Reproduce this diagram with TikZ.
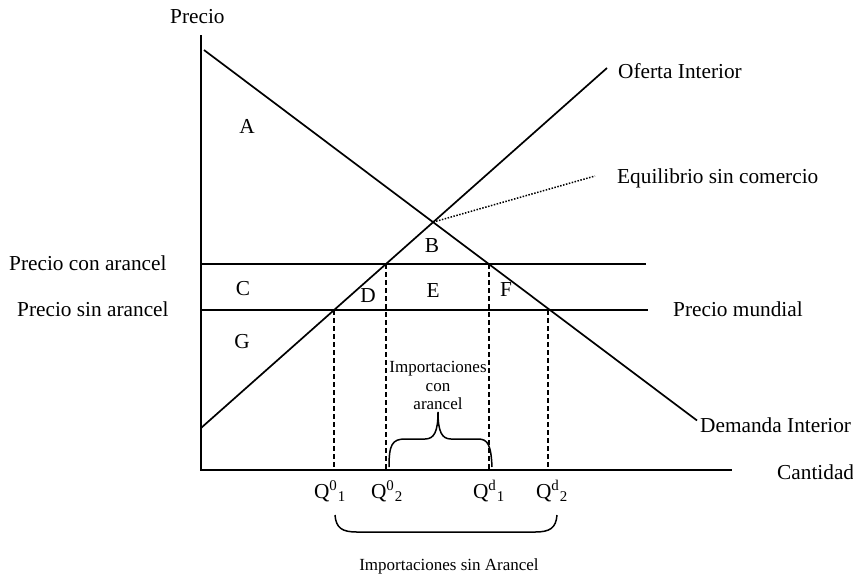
\documentclass[tikz,border=0pt]{standalone}
\usepackage{fontspec}
\setmainfont{Liberation Serif}
\begin{document}
\begin{tikzpicture}[x=1pt,y=-1pt,
  lbl/.style={inner sep=0pt,font=\fontsize{21.3}{24}\selectfont},
  small/.style={inner sep=0pt,font=\fontsize{17}{19}\selectfont},
  curve/.style={line width=1.7pt},
  drop/.style={line width=1.5pt,dash pattern=on 5pt off 3pt},
  dots/.style={line width=1.5pt,dash pattern=on 1.5pt off 1.5pt}]
\useasboundingbox (0,0) rectangle (853,576);
% key points
\coordinate (O) at (201,470);
\coordinate (Ytop) at (201,35);
\coordinate (Xend) at (732,470);
\coordinate (D0) at (204,50);
\coordinate (D1) at (697,420.5);
\coordinate (S0) at (201,428);
\coordinate (S1) at (607,68);
\coordinate (Eq) at (433.2,222.1);
\coordinate (Dotend) at (595,176);
\coordinate (PtL) at (201,264);
\coordinate (PtR) at (646,264);
\coordinate (PwL) at (201,310);
\coordinate (PwR) at (648,310);
\coordinate (q01) at (334,310);
\coordinate (q02) at (386,264);
\coordinate (qd1) at (489,264);
\coordinate (qd2) at (548,310);
\coordinate (b01) at (334,470);
\coordinate (b02) at (386,470);
\coordinate (bd1) at (489,470);
\coordinate (bd2) at (548,470);
% axes
\draw[curve] (Ytop) -- (O) -- (Xend);
% curves
\draw[curve] (D0) -- (D1);
\draw[curve] (S0) -- (S1);
\draw[curve] (PtL) -- (PtR);
\draw[curve] (PwL) -- (PwR);
\draw[dots] (Eq) -- (Dotend);
% dashed verticals
\draw[drop] (q01) -- (b01);
\draw[drop] (q02) -- (b02);
\draw[drop] (qd1) -- (bd1);
\draw[drop] (qd2) -- (bd2);
% braces
\draw[line width=1.5pt] (389,467) .. controls (389,445) and (392,439) .. (405,439)
  -- (425,439) .. controls (434,439) and (438,432) .. (438,412)
  .. controls (438,432) and (442,439) .. (451,439) -- (478,439)
  .. controls (488,439) and (491,445) .. (492,467);
\draw[line width=1.5pt] (335,515) .. controls (336,528) and (342,532) .. (357,532)
  -- (535,532) .. controls (550,532) and (556,528) .. (557,515);
% labels
\node[lbl,anchor=base west] (precio) at (170,23) {Precio};
\node[lbl,anchor=base] (A) at (247,133) {A};
\node[lbl,anchor=base] (B) at (432,252) {B};
\node[lbl,anchor=base] (C) at (243,295) {C};
\node[lbl,anchor=base] (Dl) at (368,302) {D};
\node[lbl,anchor=base] (E) at (433,297) {E};
\node[lbl,anchor=base] (F) at (506,296) {F};
\node[lbl,anchor=base] (G) at (242,348) {G};
\node[lbl,anchor=base west] (oferta) at (618,78) {Oferta Interior};
\node[lbl,anchor=base west] (equil) at (617,183) {Equilibrio sin comercio};
\node[lbl,anchor=base west] (pca) at (9,270) {Precio con arancel};
\node[lbl,anchor=base west] (psa) at (17,316) {Precio sin arancel};
\node[lbl,anchor=base west] (pm) at (673,316) {Precio mundial};
\node[lbl,anchor=base west] (dem) at (700,432) {Demanda Interior};
\node[lbl,anchor=base west] (cant) at (777,479) {Cantidad};
\node[lbl,anchor=base] (Q01) at (330,498) {Q\textsuperscript{0}\kern0.5pt\textsubscript{1}};
\node[lbl,anchor=base] (Q02) at (387,498) {Q\textsuperscript{0}\kern0.5pt\textsubscript{2}};
\node[lbl,anchor=base] (Qd1) at (489,498) {Q\textsuperscript{d}\kern0.5pt\textsubscript{1}};
\node[lbl,anchor=base] (Qd2) at (552,498) {Q\textsuperscript{d}\kern0.5pt\textsubscript{2}};
\node[small,anchor=base] (imp1) at (438,372) {Importaciones};
\node[small,anchor=base] (imp2) at (438,391) {con};
\node[small,anchor=base] (imp3) at (438,409) {arancel};
\node[small,anchor=base] (impsa) at (449,570) {Importaciones sin Arancel};
\end{tikzpicture}
\end{document}
